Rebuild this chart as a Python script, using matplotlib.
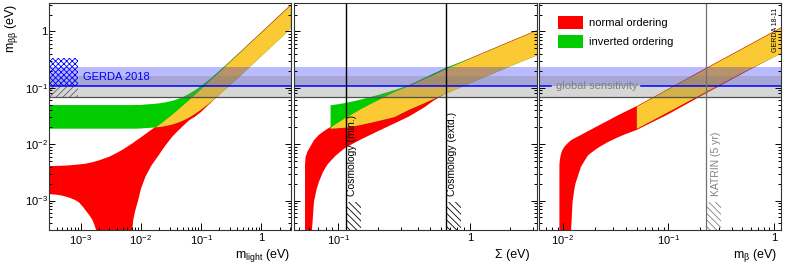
import numpy as np
import matplotlib
matplotlib.use("Agg")
import matplotlib.pyplot as plt
from matplotlib.ticker import FixedLocator, FixedFormatter, LogLocator, NullFormatter
from matplotlib.patches import Rectangle

plt.rcParams['font.family'] = ['Liberation Sans', 'DejaVu Sans']
plt.rcParams['mathtext.fontset'] = 'custom'
plt.rcParams['mathtext.rm'] = 'Liberation Sans'
plt.rcParams['mathtext.it'] = 'Liberation Sans:italic'
plt.rcParams['mathtext.bf'] = 'Liberation Sans:bold'
plt.rcParams['hatch.linewidth'] = 0.6

NAN = np.nan

# --- panel 1: m_bb vs m_light (1e-6 = zero, below the axis) ---
m_light = [3e-4, 4e-4, 5e-4, 6.4e-4, 8e-4, 9.4e-4, 1.1e-3, 1.2e-3, 1.4e-3, 1.56e-3, 1.7e-3, 1.81e-3,
           1.9e-3, 1.95e-3, 2.05e-3, 3e-3, 4e-3, 5e-3, 6.3e-3, 7.0e-3, 7.2e-3, 7.5e-3, 8e-3, 9e-3,
           0.01, 0.012, 0.015, 0.02, 0.025, 0.033, 0.04, 0.05, 0.063, 0.08, 0.1, 0.13, 0.175, 0.3,
           0.5, 1.0, 2.0, 3.0]
no_hi_1 = [4.1e-3, 4.12e-3, 4.15e-3, 4.2e-3, 4.3e-3, 4.37e-3, 4.45e-3, 4.5e-3, 4.65e-3, 4.78e-3, 4.9e-3, 4.98e-3,
           5.05e-3, 5.1e-3, 5.18e-3, 6.0e-3, 7.0e-3, 8.0e-3, 9.4e-3, 0.0101, 0.0103, 0.0106, 0.0112, 0.0122,
           0.0132, 0.0152, 0.0181, 0.0226, 0.0272, 0.0345, 0.041, 0.0505, 0.0625, 0.079, 0.098, 0.128, 0.172, 0.295,
           0.49, 0.98, 1.96, 2.95]
no_lo_1 = [1.3e-3, 1.27e-3, 1.22e-3, 1.13e-3, 1.03e-3, 9.3e-4, 7.7e-4, 6.8e-4, 5.5e-4, 4.6e-4, 3.7e-4, 3.0e-4,
           2.4e-4, 1.5e-4, 1e-6, 1e-6, 1e-6, 1e-6, 1e-6, 1e-6, 3.0e-4, 4.6e-4, 6.4e-4, 1.0e-3,
           1.6e-3, 2.7e-3, 4.2e-3, 6.5e-3, 9.2e-3, 0.0135, 0.0167, 0.021, 0.0265, 0.031, 0.0375, 0.049, 0.066, 0.113,
           0.188, 0.376, 0.752, 1.128]
io_hi_1 = [0.0504] * 19 + [0.0505, 0.0505, 0.0505, 0.0506, 0.0507,
           0.0508, 0.0518, 0.0526, 0.0542, 0.0563, 0.0602, 0.0643, 0.071, 0.0807, 0.0946, 0.112, 0.139, 0.182, 0.303,
           0.5, 0.99, 1.97, 2.96]
io_lo_1 = [0.0192] * 23 + [0.0193,
           0.0194, 0.0197, 0.02, 0.0206, 0.0214, 0.0229, 0.0245, 0.027, 0.0307, 0.036, 0.0427, 0.0531, 0.0693, 0.1155,
           0.1905, 0.38, 0.76, 1.14]

# --- panel 2: m_bb vs Sigma ---
sigma = [0.0559, 0.0565, 0.0585, 0.0603, 0.0625, 0.0631, 0.0654, 0.0685, 0.0714, 0.0765, 0.0824, 0.0865,
         0.0866, 0.095, 0.1105, 0.13, 0.148, 0.198, 0.265, 0.344, 0.45, 0.533, 0.673, 1.0, 2.0, 3.2]
no_hi_2 = [4.3e-3, 6.0e-3, 7.5e-3, 8.5e-3, 9.8e-3, 0.0102, 0.0118, 0.0133, 0.0147, 0.0166, 0.0186, 0.0199,
           0.0199, 0.0232, 0.029, 0.036, 0.043, 0.061, 0.086, 0.11, 0.146, 0.175, 0.226, 0.335, 0.665, 1.05]
no_lo_2 = [1e-6, 1e-6, 1e-6, 1e-6, 1e-6, 3e-4, 9.6e-4, 1.6e-3, 2.17e-3, 3.2e-3, 4.3e-3, 4.9e-3,
           4.9e-3, 6.2e-3, 8.3e-3, 0.0103, 0.0121, 0.0168, 0.0232, 0.031, 0.045, 0.06, 0.0815, 0.122, 0.243, 0.378]
io_hi_2 = [NAN] * 12 + [0.05, 0.0515, 0.0545, 0.059, 0.0635, 0.076, 0.093, 0.115, 0.155, 0.186, 0.24,
                        0.338, 0.667, 1.052]
io_lo_2 = [NAN] * 12 + [0.0193, 0.0195, 0.02, 0.0212, 0.0225, 0.0262, 0.031, 0.042, 0.055, 0.066, 0.083,
                        0.124, 0.245, 0.385]

# --- panel 3: m_bb vs m_beta ---
m_beta = [0.0093, 0.0094, 0.0096, 0.0099, 0.0105, 0.0115, 0.0118, 0.012, 0.0124, 0.0129, 0.0132, 0.0149,
          0.0172, 0.0178, 0.0213, 0.0265, 0.032, 0.038, 0.0497, 0.0498, 0.0968, 0.2, 0.5, 1.2]
no_hi_3 = [4.3e-3, 5.3e-3, 6.6e-3, 7.8e-3, 9.3e-3, 0.011, 0.0115, 0.0118, 0.0122, 0.0127, 0.013, 0.0146,
           0.0169, 0.0175, 0.0209, 0.0259, 0.0313, 0.0368, 0.047, 0.047, 0.093, 0.197, 0.5, 1.22]
no_lo_3 = [1e-6] * 7 + [3e-4, 9.6e-4, 1.6e-3, 2.0e-3, 4.0e-3,
           6.2e-3, 6.6e-3, 8.5e-3, 0.0108, 0.0128, 0.0147, 0.0178, 0.0178, 0.033, 0.07, 0.178, 0.425]
io_hi_3 = [NAN] * 19 + [0.047, 0.093, 0.197, 0.5, 1.22]
io_lo_3 = [NAN] * 19 + [0.0192, 0.0372, 0.077, 0.19, 0.43]

# limits / sensitivities
gerda_band = (0.108, 0.235)
sens_band = (0.068, 0.163)
gerda_hatch = (0.108, 0.339)
cosmo_lines = [0.115, 0.66]
cosmo_labels = ["Cosmology (min.)", "Cosmology (extd.)"]
katrin_line = 0.226

RED = "#ff0000"
GREEN = "#00cc00"
ORANGE = "#fbc934"

fig = plt.figure(figsize=(7.85, 2.69), dpi=100)
H = 227 / 269
B = 39 / 269
ax1 = fig.add_axes([49 / 785, B, 241.7 / 785, H])
ax2 = fig.add_axes([294 / 785, B, 242.7 / 785, H])
ax3 = fig.add_axes([539.3 / 785, B, 241.7 / 785, H])


def draw_bands(ax, x, no_lo, no_hi, io_lo, io_hi):
    x = np.array(x)
    no_lo, no_hi = np.array(no_lo), np.array(no_hi)
    io_lo, io_hi = np.array(io_lo), np.array(io_hi)
    ax.fill_between(x, no_lo, no_hi, color=RED, lw=0)
    ax.fill_between(x, io_lo, io_hi, color=GREEN, lw=0)
    # overlap of both orderings
    lo = np.maximum(no_lo, io_lo)
    hi = np.minimum(no_hi, io_hi)
    ok = np.nan_to_num(hi, nan=0) > np.nan_to_num(lo, nan=1)
    ax.fill_between(x, lo, hi, where=ok, interpolate=True, color=ORANGE, lw=0)


def draw_limits(ax, gap=None):
    ax.axhspan(*gerda_band, color="blue", alpha=0.27, lw=0)
    ax.axhspan(*sens_band, color="#808080", alpha=0.32, lw=0)
    if gap is None:
        ax.axhline(gerda_band[0], color="blue", lw=1.1)
    else:
        x0, x1 = ax.get_xlim()
        ax.plot([x0, gap[0]], [gerda_band[0]] * 2, color="blue", lw=1.1)
        ax.plot([gap[1], x1], [gerda_band[0]] * 2, color="blue", lw=1.1)
    ax.axhline(sens_band[0], color="#505050", lw=0.9)


def style(ax, xlim, xticks, xlabels):
    ax.set_xscale("log")
    ax.set_yscale("log")
    ax.set_xlim(*xlim)
    ax.set_ylim(3e-4, 3.2)
    ax.xaxis.set_major_locator(FixedLocator(xticks))
    ax.xaxis.set_major_formatter(FixedFormatter(xlabels))
    ax.xaxis.set_minor_locator(LogLocator(base=10, subs=np.arange(2, 10), numticks=50))
    ax.xaxis.set_minor_formatter(NullFormatter())
    ax.yaxis.set_major_locator(FixedLocator([1e-3, 1e-2, 1e-1, 1]))
    ax.yaxis.set_major_formatter(FixedFormatter(["$10^{-3}$", "$10^{-2}$", "$10^{-1}$", "1"]))
    ax.yaxis.set_minor_locator(LogLocator(base=10, subs=np.arange(2, 10), numticks=50))
    ax.yaxis.set_minor_formatter(NullFormatter())
    ax.tick_params(which="both", direction="in", top=False, right=True, width=0.7, labelsize=8)
    ax.tick_params(axis="x", which="major", length=5, pad=2)
    ax.tick_params(axis="x", which="minor", length=2.5)
    ax.tick_params(axis="y", which="major", length=4, pad=1)
    ax.tick_params(axis="y", which="minor", length=2)
    for s in ax.spines.values():
        s.set_linewidth(0.8)
        s.set_color("#333333")


style(ax1, (3e-4, 3.05), [1e-3, 1e-2, 1e-1, 1], ["$10^{-3}$", "$10^{-2}$", "$10^{-1}$", "1"])
style(ax2, (0.0461, 3.21), [0.1, 1], ["$10^{-1}$", "1"])
style(ax3, (6.0e-3, 1.165), [1e-2, 1e-1, 1], ["$10^{-2}$", "$10^{-1}$", "1"])
ax2.tick_params(axis="y", labelleft=False)
ax3.tick_params(axis="y", labelleft=False)

# panel 1
draw_bands(ax1, m_light, no_lo_1, no_hi_1, io_lo_1, io_hi_1)
draw_limits(ax1)
ax1.add_patch(Rectangle((3e-4, gerda_hatch[0]), 9e-4 - 3e-4, gerda_hatch[1] - gerda_hatch[0],
                        facecolor="none", edgecolor="blue", lw=0, hatch="xxxxxx"))
ax1.add_patch(Rectangle((3e-4, sens_band[0]), 9e-4 - 3e-4, gerda_band[0] - sens_band[0],
                        facecolor="none", edgecolor="#606060", lw=0, hatch="/////"))
ax1.text(1.1e-3, 0.156, "GERDA 2018", color="blue", fontsize=8, ha="left", va="center")

# panel 2
draw_bands(ax2, sigma, no_lo_2, no_hi_2, io_lo_2, io_hi_2)
draw_limits(ax2)
for xc, lab in zip(cosmo_lines, cosmo_labels):
    ax2.axvline(xc, color="black", lw=1.0)
    ax2.add_patch(Rectangle((xc, 3e-4), xc * 0.3, 9.3e-4 - 3e-4, facecolor="none",
                            edgecolor="black", lw=0, hatch="\\\\\\\\\\"))
    ax2.text(xc * 1.1, 1.18e-3, lab, rotation=90, fontsize=7.5, ha="center", va="bottom")

# panel 3
draw_bands(ax3, m_beta, no_lo_3, no_hi_3, io_lo_3, io_hi_3)
draw_limits(ax3, gap=(7.7e-3, 0.0555))
ax3.text(8.6e-3, gerda_band[0], "global sensitivity", color="#808080", fontsize=8,
         ha="left", va="center")
ax3.axvline(katrin_line, color="#707070", lw=0.9)
ax3.add_patch(Rectangle((katrin_line, 3e-4), katrin_line * 0.39, 9.3e-4 - 3e-4, facecolor="none",
                        edgecolor="#808080", lw=0, hatch="\\\\\\\\\\"))
ax3.text(katrin_line * 1.24, 1.18e-3, "KATRIN (5 yr)", rotation=90, fontsize=7.5, color="#808080",
         ha="center", va="bottom")

# legend
for yb, col, lab in [(0.885, RED, "normal ordering"), (0.802, GREEN, "inverted ordering")]:
    ax3.add_patch(Rectangle((0.077, yb), 0.105, 0.056, transform=ax3.transAxes,
                            facecolor=col, edgecolor="none"))
    ax3.text(0.206, yb + 0.028, lab, transform=ax3.transAxes, fontsize=8, ha="left", va="center")
ax3.text(0.978, 0.978, "GERDA 18-11", transform=ax3.transAxes, rotation=90, fontsize=5,
         ha="center", va="top")

# axis titles
fig.text(12 / 785, 1 - 4 / 269, r"m$_{\mathrm{\beta\beta}}$ (eV)", rotation=90, fontsize=9,
         ha="center", va="top")
fig.text(290 / 785, 1 - 255 / 269, r"m$_{\mathrm{light}}$ (eV)", fontsize=9, ha="right", va="center")
fig.text(530 / 785, 1 - 255 / 269, "Σ (eV)", fontsize=9, ha="right", va="center")
fig.text(777 / 785, 1 - 255 / 269, r"m$_{\mathrm{\beta}}$ (eV)", fontsize=9, ha="right", va="center")

fig.savefig("out.png", dpi=100)
